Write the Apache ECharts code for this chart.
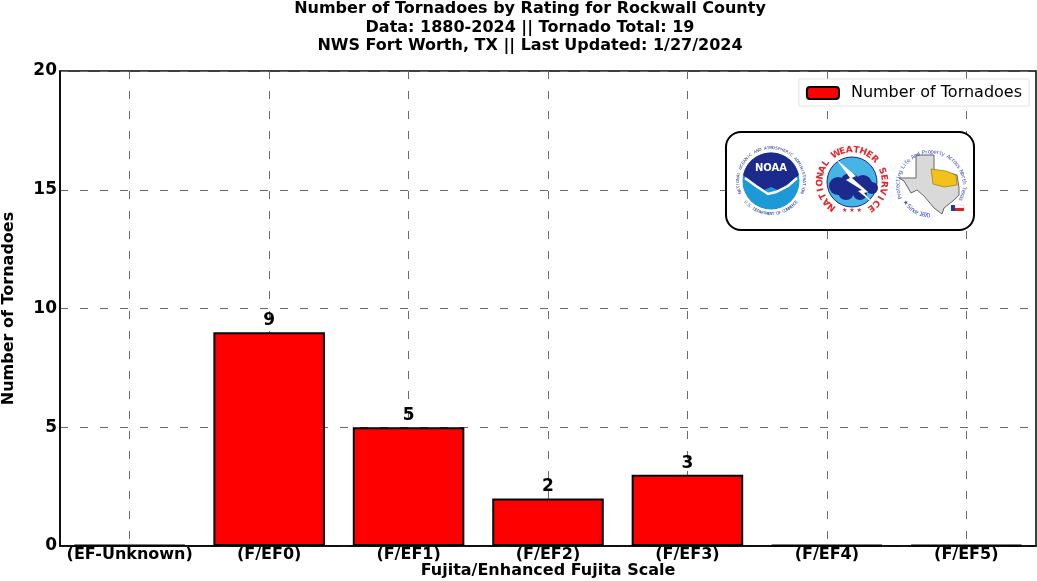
<!DOCTYPE html>
<html><head><meta charset="utf-8">
<script src="https://cdn.jsdelivr.net/npm/echarts@6/dist/echarts.min.js"></script>
<style>html,body{margin:0;padding:0;background:#fff}#c{width:1037px;height:581px}</style>
</head><body><div id="c"></div>
<script>
const categories = ['(EF-Unknown)', '(F/EF0)', '(F/EF1)', '(F/EF2)', '(F/EF3)', '(F/EF4)', '(F/EF5)'];
const tornadoCounts = [0, 9, 5, 2, 3, 0, 0];
const seriesName = 'Number of Tornadoes';
const titleLines = [
  'Number of Tornadoes by Rating for Rockwall County',
  'Data: 1880-2024 || Tornado Total: 19',
  'NWS Fort Worth, TX || Last Updated: 1/27/2024'
];
const yAxisName = 'Number of Tornadoes';
const xAxisName = 'Fujita/Enhanced Fujita Scale';
const yMin = 0, yMax = 20, yStep = 5;

const FONT = 'DejaVu Sans';
const chart = echarts.init(document.getElementById('c'), null, {renderer: 'canvas'});

function arcText(str, cx, cy, r, a0, a1, color, font, outward) {
  const els = [];
  const n = str.length;
  for (let i = 0; i < n; i++) {
    const t = n === 1 ? 0.5 : i / (n - 1);
    const a = (a0 + (a1 - a0) * t) * Math.PI / 180;
    els.push({
      type: 'text', x: cx + r * Math.cos(a), y: cy + r * Math.sin(a),
      rotation: outward ? -(a + Math.PI / 2) : (Math.PI / 2 - a),
      style: {text: str[i], fill: color, font: font, align: 'center', verticalAlign: 'middle'},
      silent: true, z: 22
    });
  }
  return els;
}

const graphics = [];
titleLines.forEach((t, i) => {
  graphics.push({type: 'text', x: 530, y: 9 + i * 18.5,
    style: {text: t, fill: '#000', font: 'bold 16px ' + FONT, align: 'center', verticalAlign: 'middle'}, z: 30});
});

// logo panel
graphics.push({type: 'rect', shape: {x: 726, y: 132, width: 248, height: 98, r: 15},
  style: {fill: '#fff', stroke: '#000', lineWidth: 2}, z: 20});
// NOAA
graphics.push({type: 'circle', shape: {cx: 771, cy: 181, r: 28.5}, style: {fill: '#1d9ad6'}, z: 21});
graphics.push({type: 'polygon', shape: {points: (function () {
  const pts = [];
  for (let d = 192; d <= 348; d += 6) {
    const a = d * Math.PI / 180;
    pts.push([771 + 28.5 * Math.cos(a), 181 + 28.5 * Math.sin(a)]);
  }
  pts.push([790, 183], [778, 190], [771, 187], [764, 190], [752, 183]);
  return pts;
})()}, style: {fill: '#1b2a8c'}, z: 21});
graphics.push({type: 'polyline', shape: {points: [[745, 178], [756, 186], [768, 194], [776, 192], [788, 186], [797, 178]]},
  style: {stroke: '#fff', lineWidth: 2.5, fill: null}, z: 22});
graphics.push({type: 'text', x: 771, y: 168, style: {text: 'NOAA', fill: '#fff', font: 'bold 10px ' + FONT, align: 'center', verticalAlign: 'middle'}, z: 23});
arcText('NATIONAL OCEANIC AND ATMOSPHERIC ADMINISTRATION', 771, 181, 33, 160, 380, '#1b2a8c', '4px ' + FONT, true).forEach(e => graphics.push(e));
arcText('U.S. DEPARTMENT OF COMMERCE', 771, 181, 33, 140, 40, '#1b2a8c', '4px ' + FONT, false).forEach(e => graphics.push(e));

// NWS
graphics.push({type: 'circle', shape: {cx: 852, cy: 182, r: 25}, style: {fill: '#47b4e6', stroke: '#1b2a8c', lineWidth: 1}, z: 21});
[[838, 186, 9], [850, 183, 10], [863, 184, 9], [872, 188, 6], [846, 192, 8], [860, 193, 7]].forEach(c => {
  graphics.push({type: 'circle', shape: {cx: c[0], cy: c[1], r: c[2]}, style: {fill: '#1b2a8c'}, z: 22});
});
graphics.push({type: 'polygon', shape: {points: [[836, 159], [856, 176], [852, 178], [868, 192], [864, 193], [873, 203], [858, 191], [862, 190], [846, 180], [850, 178]]},
  style: {fill: '#fff'}, z: 23});
arcText('NATIONAL WEATHER SERVICE', 852, 182, 32, 129, 414, '#e3262b', 'bold 9px ' + FONT, true).forEach(e => graphics.push(e));
graphics.push({type: 'text', x: 852, y: 210, style: {text: '★ ★ ★', fill: '#e3262b', font: '6px ' + FONT, align: 'center', verticalAlign: 'middle'}, z: 22});

// Texas
graphics.push({type: 'polygon', shape: {points: [[916, 155], [934, 155], [934, 170], [945, 172], [957, 175], [959, 188], [959, 195], [954, 200], [944, 208], [942, 214], [934, 208], [924, 196], [917, 190], [911, 193], [904, 181], [899, 178], [916, 178]]},
  style: {fill: '#d9d9d9', stroke: '#666', lineWidth: 1}, z: 21});
graphics.push({type: 'polygon', shape: {points: [[931, 169], [946, 171], [956, 175], [957, 185], [944, 187], [933, 184]]},
  style: {fill: '#f2c21b', stroke: '#8a6d00', lineWidth: 0.6}, z: 22});
graphics.push({type: 'rect', shape: {x: 951, y: 205, width: 4, height: 6}, style: {fill: '#1b3a9c'}, z: 22});
graphics.push({type: 'rect', shape: {x: 955, y: 205, width: 9, height: 3}, style: {fill: '#fff', stroke: '#999', lineWidth: 0.3}, z: 22});
graphics.push({type: 'rect', shape: {x: 955, y: 208, width: 9, height: 3}, style: {fill: '#d7261e'}, z: 22});
arcText('Protecting Life And Property Across North Texas', 931, 185, 33, 158, 386, '#3a4fc4', '5.5px ' + FONT, true).forEach(e => graphics.push(e));
arcText('★ Since 1870', 931, 185, 31, 145, 95, '#3a4fc4', '6px ' + FONT, false).forEach(e => graphics.push(e));

const option = {
  backgroundColor: '#fff',
  animation: false,
  textStyle: {fontFamily: FONT},
  grid: {left: 60, right: 1, top: 71, bottom: 35, containLabel: false, outerBoundsMode: 'none',
    show: true, borderColor: '#000', borderWidth: 1.5, backgroundColor: 'transparent'},
  legend: {
    right: 8, top: 79, padding: [6, 7, 5, 7],
    itemWidth: 32, itemHeight: 12,
    borderColor: '#e4e4e4', borderWidth: 1, backgroundColor: '#fff',
    textStyle: {fontFamily: FONT, fontSize: 16, color: '#000', padding: [0, 0, 0, 7]},
    data: [seriesName]
  },
  xAxis: {
    type: 'category', data: categories,
    name: xAxisName, nameLocation: 'middle', nameGap: 17, nameMoveOverlap: false,
    nameTextStyle: {fontFamily: FONT, fontWeight: 'bold', fontSize: 16, color: '#000'},
    axisLine: {show: true, lineStyle: {color: '#000', width: 1.5}},
    axisTick: {show: false, alignWithLabel: true},
    axisLabel: {interval: 0, fontFamily: FONT, fontWeight: 'bold', fontSize: 16, color: '#000', margin: 1},
    splitLine: {show: true, interval: 0, alignWithLabel: true, lineStyle: {color: '#6a6a6a', type: [8, 12], width: 1}}
  },
  yAxis: {
    type: 'value', min: yMin, max: yMax, interval: yStep,
    name: yAxisName, nameLocation: 'middle', nameGap: 43, nameRotate: 90, nameMoveOverlap: false,
    nameTextStyle: {fontFamily: FONT, fontWeight: 'bold', fontSize: 16, color: '#000'},
    axisLine: {show: true, lineStyle: {color: '#000', width: 1.5}},
    axisTick: {show: false},
    axisLabel: {fontFamily: FONT, fontWeight: 'bold', fontSize: 17, color: '#000', margin: 3},
    splitLine: {show: true, lineStyle: {color: '#6a6a6a', type: [8, 12], width: 1}}
  },
  series: [{
    name: seriesName, type: 'bar', data: tornadoCounts, barWidth: '80%', barMinHeight: 1,
    itemStyle: {color: '#ff0000', borderColor: '#000', borderWidth: 2},
    label: {show: true, position: 'top', distance: 3, fontFamily: FONT, fontWeight: 'bold', fontSize: 17, color: '#000',
      formatter: p => p.value > 0 ? String(p.value) : ''},
    z: 5
  }],
  graphic: graphics
};
chart.setOption(option);
</script></body></html>
